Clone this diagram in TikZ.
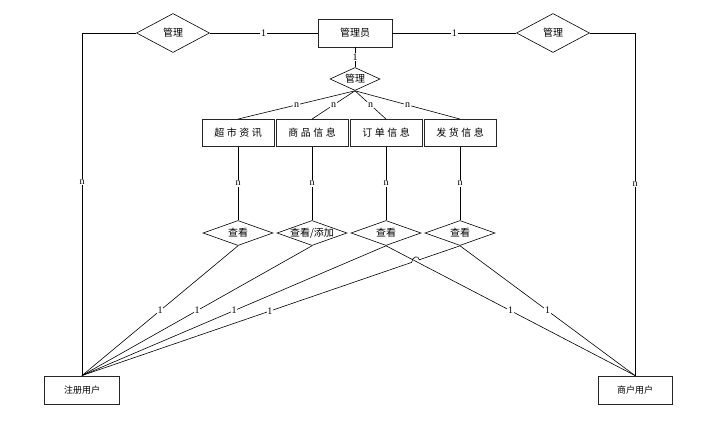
\documentclass[tikz,border=0pt]{standalone}
\usepackage{fontspec}
\setmainfont{Liberation Serif}
\newfontfamily\cjk{Noto Sans CJK SC}
\usetikzlibrary{shapes.geometric,calc}
\newcommand{\zt}[1]{\makebox[0pt]{#1}}
\begin{document}
\begin{tikzpicture}[x=1pt,y=-1pt,
  ent/.style={draw=black!85,line width=0.9pt,rectangle,inner sep=0pt,font=\cjk\fontsize{10}{12}\selectfont},
  rel/.style={draw,line width=0.6pt,diamond,inner sep=0pt,font=\cjk\fontsize{10}{12}\selectfont},
  lab/.style={fill=white,inner sep=0.8pt,font=\fontsize{10}{11}\selectfont},
  conn/.style={line width=0.6pt}]
\useasboundingbox (0,0) rectangle (728,425);
% entities
\node[ent,minimum width=74pt,minimum height=28pt] (admin) at (355,33) {管理员};
\node[ent,minimum width=72pt,minimum height=27pt] (e1) at (238,133) {超\hspace{2.5pt}市\hspace{2.5pt}资\hspace{2.5pt}讯};
\node[ent,minimum width=72pt,minimum height=27pt] (e2) at (312,133) {商\hspace{2.5pt}品\hspace{2.5pt}信\hspace{2.5pt}息};
\node[ent,minimum width=72pt,minimum height=27pt] (e3) at (386,133) {订\hspace{2.5pt}单\hspace{2.5pt}信\hspace{2.5pt}息};
\node[ent,minimum width=72pt,minimum height=27pt] (e4) at (460,133) {发\hspace{2.5pt}货\hspace{2.5pt}信\hspace{2.5pt}息};
\node[ent,minimum width=75pt,minimum height=28pt,font=\cjk\fontsize{9}{11}\selectfont] (reg) at (82,390) {注册用户};
\node[ent,minimum width=74pt,minimum height=28pt,font=\cjk\fontsize{9}{11}\selectfont] (shop) at (635,390) {商户用户};
% relationships
\node[rel,minimum width=73pt,minimum height=39pt] (mL) at (173,33) {\zt{管理}};
\node[rel,minimum width=73pt,minimum height=39pt] (mR) at (553,33) {\zt{管理}};
\node[rel,minimum width=50pt,minimum height=23pt] (mC) at (355,79) {\zt{管理}};
\node[rel,minimum width=70pt,minimum height=25pt] (c1) at (238,233) {\zt{查看}};
\node[rel,minimum width=70pt,minimum height=25pt] (c2) at (312,233) {\zt{查看/添加}};
\node[rel,minimum width=70pt,minimum height=25pt] (c3) at (386,233) {\zt{查看}};
\node[rel,minimum width=70pt,minimum height=25pt] (c4) at (460,233) {\zt{查看}};
% top connectors
\draw[conn] (admin.west) -- node[lab]{1} (mL.east);
\draw[conn] (admin.east) -- node[lab]{1} (mR.west);
\draw[conn] (mL.west) -| node[lab,pos=0.717]{n} (reg.north);
\draw[conn] (mR.east) -| node[lab,pos=0.72]{n} (shop.north);
\draw[conn] (admin.south) -- node[lab]{1} (mC.north);
\foreach \i in {1,2,3,4}{
  \draw[conn] (mC.south) -- node[lab]{n} (e\i.north);
  \draw[conn] (e\i.south) -- node[lab]{n} (c\i.north);
}
% lower connectors
\draw[conn] (c1.south) -- node[lab]{1} (reg.north);
\draw[conn] (c2.south) -- node[lab]{1} (reg.north);
\draw[conn] (c3.south) -- node[lab]{1} (reg.north);
\draw[conn] (c3.south) -- node[lab]{1} (shop.north);
\draw[conn] (c4.south) -- node[lab]{1} (shop.north);
\coordinate (X) at ($(c4.south)!0.118!(reg.north)$);
\coordinate (P1) at ($(X)!4pt!(c4.south)$);
\coordinate (P2) at ($(X)!4pt!(reg.north)$);
\draw[conn] (c4.south) -- (P1) .. controls ($(P1)+(0,-5.5)$) and ($(P2)+(0,-5.5)$) .. (P2) -- node[lab,pos=0.43]{1} (reg.north);
\end{tikzpicture}
\end{document}
